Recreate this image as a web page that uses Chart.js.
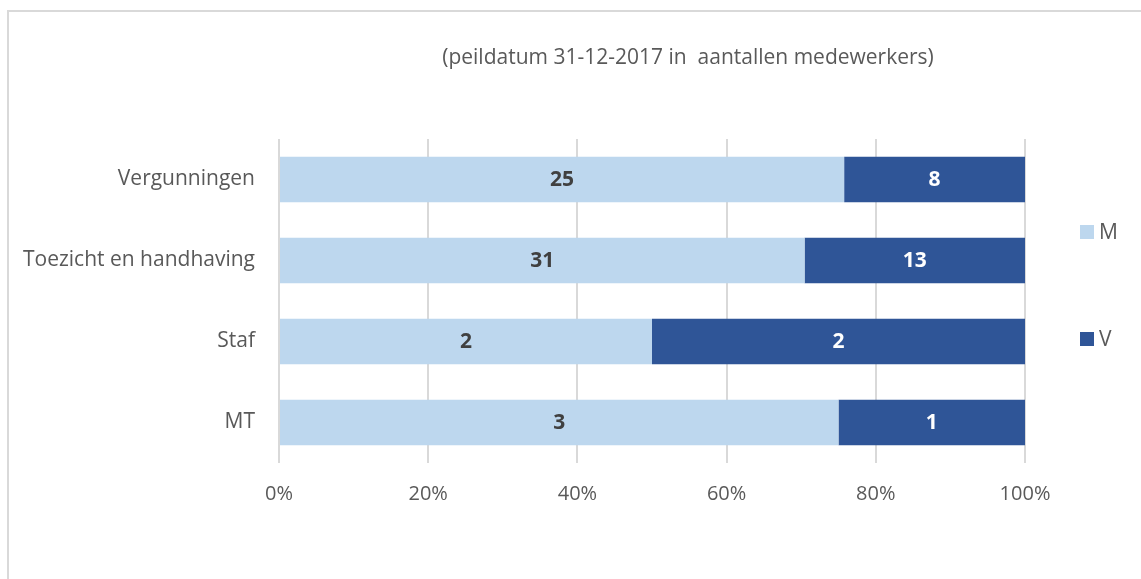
<!DOCTYPE html>
<html>
<head>
<meta charset="utf-8">
<script src="https://cdn.jsdelivr.net/npm/chart.js@4/dist/chart.umd.min.js"></script>
<style>
    html, body { margin: 0; padding: 0; background: #fff; }
    #wrap { width: 1141px; height: 579px; position: relative; }
</style>
</head>
<body>
<div id="wrap"><canvas id="staffChart" width="1141" height="579"></canvas></div>
<script>
    const categories = ['Vergunningen', 'Toezicht en handhaving', 'Staf', 'MT'];
    const valuesM = [25, 31, 2, 3];
    const valuesV = [8, 13, 2, 1];
    const seriesNames = ['M', 'V'];
    const tickLabels = ['0%', '20%', '40%', '60%', '80%', '100%'];
    const titleText = '(peildatum 31-12-2017 in  aantallen medewerkers)';

    const colorM = '#BDD7EE';
    const colorV = '#2F5597';
    const textColor = '#595959';
    const fontFamily = '"Open Sans", sans-serif';

    // share per category, the chart is a 100% stack
    const totals = categories.map(function (c, i) { return valuesM[i] + valuesV[i]; });
    const pctM = valuesM.map(function (v, i) { return v / totals[i] * 100; });
    const pctV = valuesV.map(function (v, i) { return v / totals[i] * 100; });
    const rawValues = [valuesM, valuesV];

    const framePlugin = {
        id: 'frame',
        beforeDraw: function (chart) {
            const ctx = chart.ctx;
            ctx.save();
            ctx.fillStyle = '#fff';
            ctx.fillRect(0, 0, chart.width, chart.height);
            ctx.strokeStyle = '#d9d9d9';
            ctx.lineWidth = 2;
            ctx.beginPath();
            ctx.moveTo(8, chart.height);
            ctx.lineTo(8, 11);
            ctx.lineTo(chart.width, 11);
            ctx.stroke();
            ctx.restore();
        },
        afterDraw: function (chart) {
            const ctx = chart.ctx;
            ctx.save();
            // title
            ctx.fillStyle = textColor;
            ctx.font = '21px ' + fontFamily;
            ctx.textAlign = 'center';
            ctx.textBaseline = 'middle';
            ctx.fillText(titleText, 688, 58);

            // legend
            const legendY = [232, 339];
            chart.data.datasets.forEach(function (ds, i) {
                ctx.fillStyle = ds.backgroundColor;
                ctx.fillRect(1080, legendY[i] - 7, 14, 14);
                ctx.fillStyle = textColor;
                ctx.textAlign = 'left';
                ctx.font = '21px ' + fontFamily;
                ctx.fillText(ds.label, 1099, legendY[i] + 1);
            });
            ctx.restore();
        }
    };

    const labelPlugin = {
        id: 'segmentLabels',
        afterDatasetsDraw: function (chart) {
            const ctx = chart.ctx;
            ctx.save();
            ctx.font = 'bold 21px ' + fontFamily;
            ctx.textAlign = 'center';
            ctx.textBaseline = 'middle';
            chart.data.datasets.forEach(function (ds, i) {
                const meta = chart.getDatasetMeta(i);
                ctx.fillStyle = i == 0 ? '#404040' : '#ffffff';
                meta.data.forEach(function (bar, j) {
                    const p = bar.getCenterPoint();
                    ctx.fillText(String(rawValues[i][j]), p.x, p.y + 1);
                });
            });
            ctx.restore();
        }
    };

    new Chart(document.getElementById('staffChart'), {
        type: 'bar',
        data: {
            labels: categories,
            datasets: [{
                label: seriesNames[0],
                data: pctM,
                backgroundColor: colorM,
                barPercentage: 0.56,
                categoryPercentage: 1
            }, {
                label: seriesNames[1],
                data: pctV,
                backgroundColor: colorV,
                barPercentage: 0.56,
                categoryPercentage: 1
            }]
        },
        options: {
            indexAxis: 'y',
            responsive: false,
            animation: false,
            layout: {
                padding: { top: 139, right: 116, bottom: 66, left: 0 }
            },
            plugins: {
                legend: { display: false },
                title: { display: false },
                tooltip: { enabled: false }
            },
            scales: {
                x: {
                    stacked: true,
                    min: 0,
                    max: 100,
                    afterFit: function (s) { s.height = 50; },
                    afterBuildTicks: function (s) {
                        s.ticks = tickLabels.map(function (t, i) { return { value: i * 20 }; });
                    },
                    grid: {
                        color: '#d9d9d9',
                        lineWidth: 2,
                        drawTicks: false
                    },
                    border: { display: false },
                    ticks: {
                        padding: 19,
                        color: textColor,
                        font: { family: fontFamily, size: 20 },
                        callback: function (v, i) { return tickLabels[i]; }
                    }
                },
                y: {
                    stacked: true,
                    afterFit: function (s) { s.width = 279; },
                    grid: { display: false },
                    border: { display: false },
                    ticks: {
                        padding: 16,
                        color: textColor,
                        font: { family: fontFamily, size: 21 }
                    }
                }
            }
        },
        plugins: [framePlugin, labelPlugin]
    });
</script>
</body>
</html>
